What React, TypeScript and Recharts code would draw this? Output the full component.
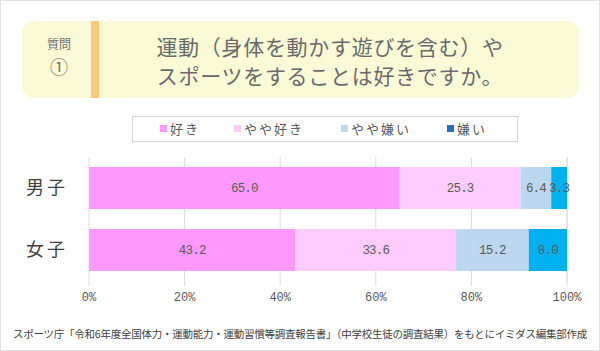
import React from 'react'
import { BarChart, Bar, XAxis, YAxis, CartesianGrid, LabelList } from 'recharts'

const groups = ['男子', '女子']
const like = [65.0, 43.2]
const ratherLike = [25.3, 33.6]
const ratherDislike = [6.4, 15.2]
const dislike = [3.3, 8.0]
const xTicks = [0, 20, 40, 60, 80, 100]

const seriesNames = ['好き', 'やや好き', 'やや嫌い', '嫌い']
const barColors = ['#ff99ff', '#ffccff', '#bdd7ee', '#00b0f0']
const legendColors = ['#ff99ff', '#ffccff', '#bdd7ee', '#2e6db4']

const data = groups.map((g, i) => ({
  name: g,
  like: like[i],
  ratherLike: ratherLike[i],
  ratherDislike: ratherDislike[i],
  dislike: dislike[i],
}))
const keys = ['like', 'ratherLike', 'ratherDislike', 'dislike']

const jp = '"Noto Sans CJK JP", "Noto Sans", sans-serif'
const mono = '"Liberation Mono", "DejaVu Sans Mono", monospace'

function GroupTick(props: any) {
  const { y, payload } = props
  return (
    <text x={47} y={y} dy={6} textAnchor="middle" fontSize={18} fill="#404040" fontFamily={jp} letterSpacing={3}>
      {payload.value}
    </text>
  )
}

export default function App() {
  return (
    <div style={{ position: 'absolute', left: 0, top: 0, width: 600, height: 351, background: '#fff', fontFamily: jp, overflow: 'hidden' }}>
      <div style={{ position: 'absolute', left: 0, top: 0, width: 598, height: 349, border: '1px solid #e2e2e2' }} />

      {/* question box */}
      <div style={{ position: 'absolute', left: 22, top: 21, width: 557, height: 77, background: '#fafad7', borderRadius: 12 }} />
      <div style={{ position: 'absolute', left: 91, top: 21, width: 8, height: 77, background: '#f9c97c' }} />
      <div style={{ position: 'absolute', left: 36, top: 37, width: 46, textAlign: 'center', color: '#707070', fontSize: 12, lineHeight: '14px' }}>質問</div>
      <div style={{ position: 'absolute', left: 36, top: 55, width: 46, textAlign: 'center', color: '#707070', fontSize: 18, lineHeight: '22px' }}>①</div>
      <div style={{ position: 'absolute', left: 100, top: 32, width: 460, textAlign: 'center', color: '#6a6a6a', fontSize: 21, lineHeight: '29px', letterSpacing: 0.7 }}>
        運動（身体を動かす遊びを含む）や<br />スポーツをすることは好きですか。
      </div>

      {/* legend */}
      <div style={{ position: 'absolute', left: 132, top: 116, width: 384, height: 24, border: '1px solid #d6d6d6', background: '#fff' }} />
      {seriesNames.map((n, i) => (
        <div key={n} style={{ position: 'absolute', left: [160, 234, 341, 447][i], top: 118, height: 20, display: 'flex', alignItems: 'center', fontSize: 13, color: '#595959' }}>
          <span style={{ display: 'inline-block', width: 7, height: 7, background: legendColors[i], marginRight: 3 }} />
          <span style={{ letterSpacing: 2 }}>{n}</span>
        </div>
      ))}

      <div style={{ position: 'absolute', left: 0, top: 0 }}>
        <BarChart width={600} height={351} data={data} layout="vertical" margin={{ top: 157, right: 33, bottom: 38, left: 0 }}>
          <CartesianGrid horizontal={false} vertical={true} stroke="#dcdcdc" />
          <XAxis type="number" domain={[0, 100]} ticks={xTicks} tickFormatter={(v: number) => `${v}%`}
            axisLine={false} tickLine={{ stroke: '#dcdcdc' }} tickSize={5} tickMargin={6} height={32}
            tick={{ fontSize: 12, fill: '#595959', fontFamily: mono }} interval={0} />
          <YAxis type="category" dataKey="name" width={89} axisLine={false} tickLine={false} tick={<GroupTick />} />
          {keys.map((k, i) => (
            <Bar key={k} dataKey={k} name={seriesNames[i]} stackId="a" fill={barColors[i]} barSize={42} isAnimationActive={false}>
              <LabelList dataKey={k} position="center" formatter={(v: any) => Number(v).toFixed(1)}
                style={{ fontSize: 12.5, fill: '#595959', fontFamily: mono, letterSpacing: -0.8 }} />
            </Bar>
          ))}
        </BarChart>
      </div>

      <div style={{ position: 'absolute', left: 0, top: 326, width: 600, textAlign: 'center', fontSize: 10.5, color: '#404040', letterSpacing: -0.25, whiteSpace: 'nowrap' }}>
        スポーツ庁「令和6年度全国体力・運動能力・運動習慣等調査報告書」（中学校生徒の調査結果）をもとにイミダス編集部作成
      </div>
    </div>
  )
}
